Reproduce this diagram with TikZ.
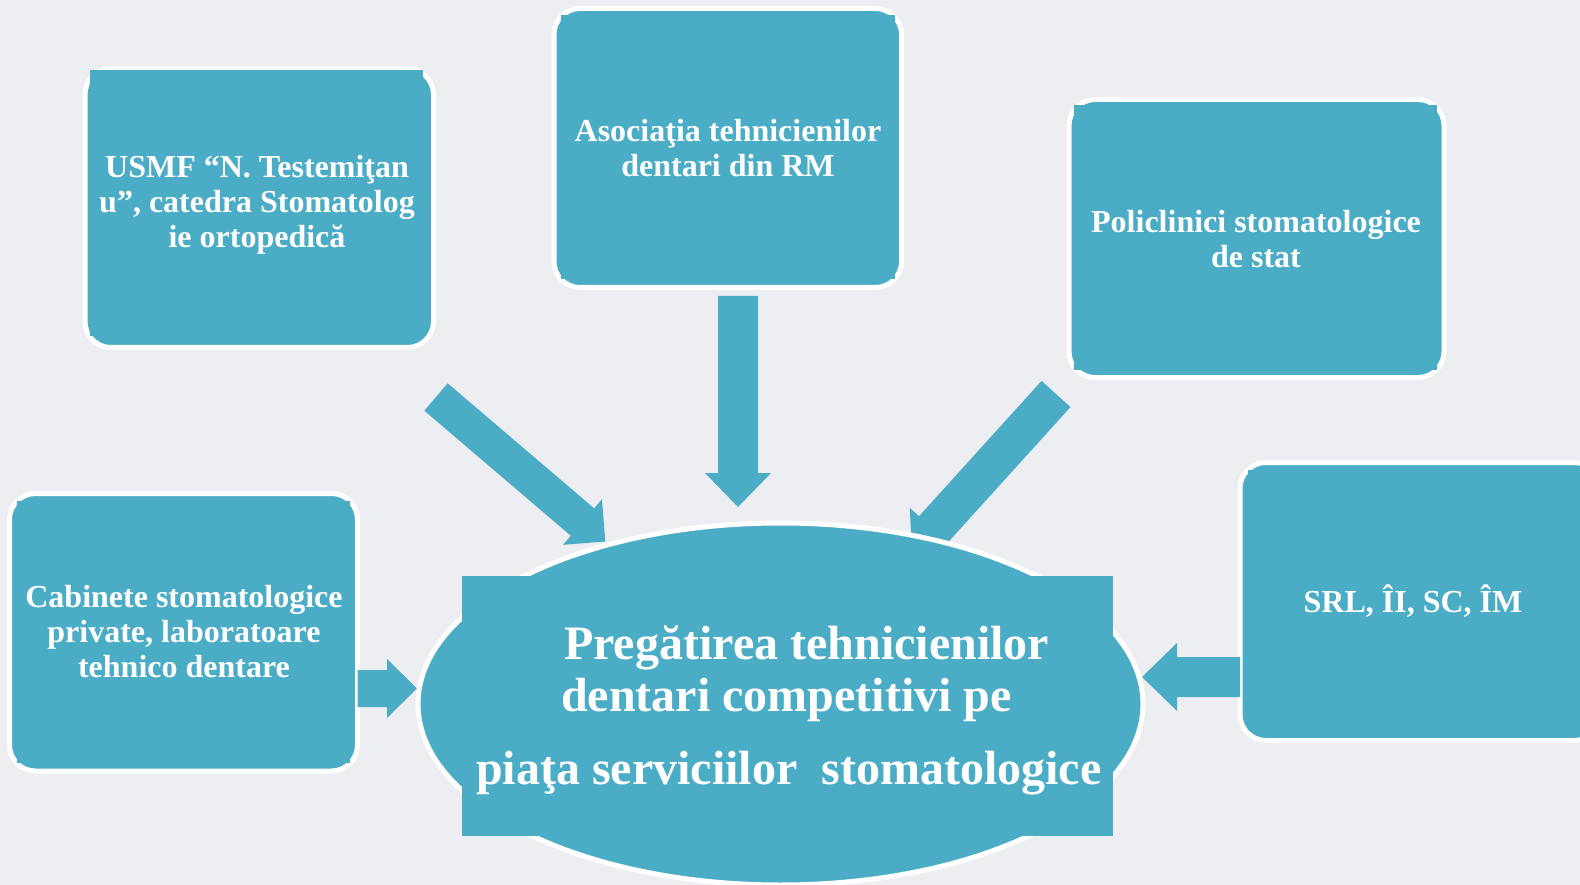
\documentclass[tikz,border=0pt]{standalone}
\usepackage{fontspec}
\setmainfont{Liberation Serif}
\usetikzlibrary{calc,shapes.geometric}
\definecolor{tealfill}{HTML}{4BACC6}
\definecolor{bgc}{HTML}{EDEEF2}
% #1 name prefix, #2 tail, #3 tip, #4 shaft half-width, #5 head length, #6 head half-width
\newcommand\blockarrow[6]{%
  \coordinate (#1-c) at ($(#3)!#5!(#2)$);
  \fill[arrowfill] ($(#2)!#4!90:(#3)$) -- ($(#1-c)!#4!-90:(#2)$) -- ($(#1-c)!#6!-90:(#2)$)
     -- (#3) -- ($(#1-c)!#6!90:(#2)$) -- ($(#1-c)!#4!90:(#2)$) -- ($(#2)!#4!-90:(#3)$) -- cycle;
}
\begin{document}
\begin{tikzpicture}[x=1pt,y=-1pt,
  box/.style={rectangle, draw=white, line width=5pt, fill=tealfill, rounded corners=26pt, inner sep=0pt, outer sep=0pt},
  patch/.style={fill=tealfill},
  lbl/.style={text=white, font=\fontsize{32}{35}\selectfont\bfseries, align=center, inner sep=0pt},
  big/.style={text=white, font=\fontsize{48}{52}\selectfont\bfseries, inner sep=0pt},
  arrowfill/.style={fill=tealfill}]
\fill[bgc] (0,0) rectangle (1580,885);
\useasboundingbox (0,0) rectangle (1580,885);

% boxes
\node[box, minimum width=348.5pt, minimum height=279pt] (usmf) at (259.25,208) {};
\fill[patch] (90,70) rectangle (423,336);
\node[lbl] (usmf-t) at (257,205) {USMF “N. Testemiţan\\u”, catedra Stomatolog\\ie ortopedică};

\node[box, minimum width=347.5pt, minimum height=279pt] (asoc) at (727.75,148) {};
\fill[patch] (561,15) rectangle (895,279);
\node[lbl] (asoc-t) at (728,148) {Asociaţia tehnicienilor\\dentari din RM};

\node[box, minimum width=375pt, minimum height=278pt] (poli) at (1256.5,238.5) {};
\fill[patch] (1074,105) rectangle (1437,370);
\node[lbl] (poli-t) at (1256,239) {Policlinici stomatologice\\de stat};

\node[box, minimum width=348pt, minimum height=277.5pt] (cab) at (183.5,632.25) {};
\fill[patch] (17,501) rectangle (350,763);
\node[lbl] (cab-t) at (184,632) {Cabinete stomatologice\\private, laboratoare\\tehnico dentare};

\node[box, minimum width=360pt, minimum height=278pt] (srl) at (1420,601.5) {};
\fill[patch] (1248,470) rectangle (1610,730);
\node[lbl] (srl-t) at (1413,601) {SRL, ÎI, SC, ÎM};

% arrows
\coordinate (a1s) at (436,397);   \coordinate (a1e) at (605.3,541.5);
\blockarrow{a1}{a1s}{a1e}{18pt}{30pt}{30pt}
\coordinate (a2s) at (738,296);   \coordinate (a2e) at (738,507);
\blockarrow{a2}{a2s}{a2e}{20pt}{34pt}{33pt}
\coordinate (a3s) at (1056,394);  \coordinate (a3e) at (912,553);
\blockarrow{a3}{a3s}{a3e}{19.5pt}{32pt}{32pt}
\coordinate (a4s) at (cab.east |- 0,688.5); \coordinate (a4e) at (417,688.5);
\blockarrow{a4}{a4s}{a4e}{18.5pt}{30pt}{29.5pt}
\coordinate (a5s) at (srl.west |- 0,677); \coordinate (a5e) at (1142,677);
\blockarrow{a5}{a5s}{a5e}{20pt}{35pt}{34pt}

% central ellipse
\node[ellipse, draw=white, line width=5pt, fill=tealfill, minimum width=725pt, minimum height=362pt, inner sep=0pt] (goal) at (780.5,704) {};
\fill[patch] (462,576) rectangle (1113,836);
\node[big, anchor=base west] (g1) at (564,659) {Pregătirea tehnicienilor};
\node[big, anchor=base west] (g2) at (561,711) {dentari competitivi pe};
\node[big, anchor=base west] (g3) at (476,784) {piaţa serviciilor\ \ stomatologice};
\end{tikzpicture}
\end{document}
